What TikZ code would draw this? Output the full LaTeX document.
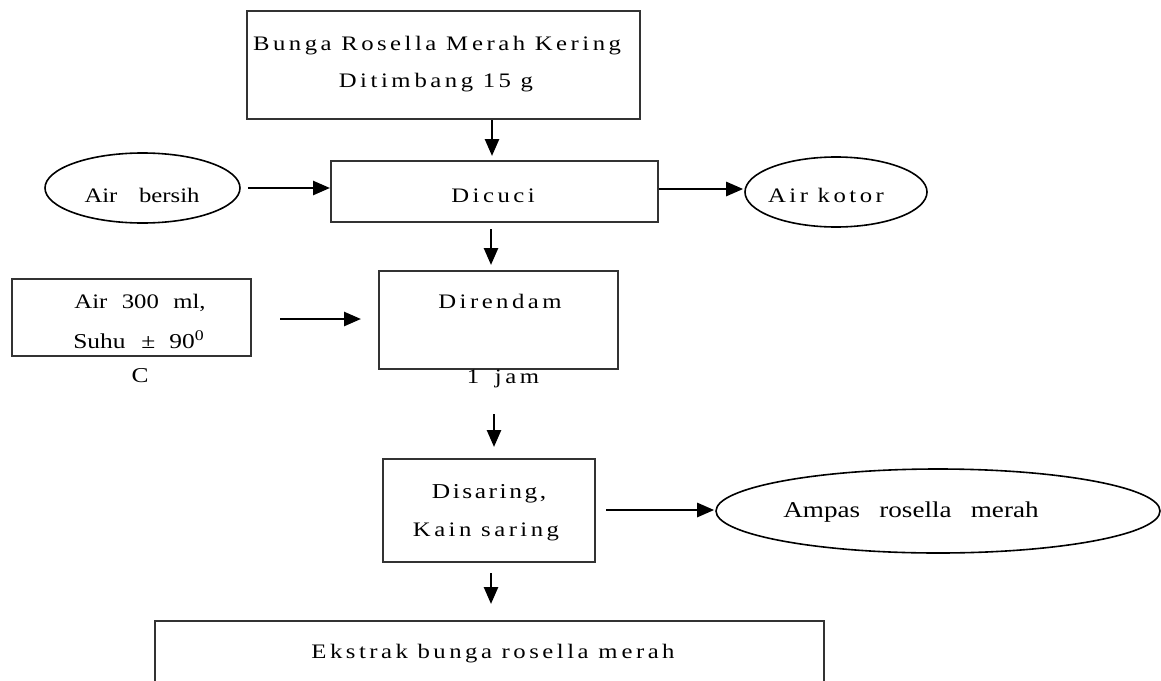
\documentclass[tikz,border=0pt]{standalone}
\usepackage{fontspec}
\setmainfont{Liberation Serif}
\newfontfamily\wfont[FakeStretch=1.2]{Liberation Serif}
\newfontfamily\lsfont[FakeStretch=1.2,LetterSpace=17]{Liberation Serif}
\newfontfamily\dsfont[FakeStretch=1.2,LetterSpace=12]{Liberation Serif}
\newcommand\wsp[2]{\fontsize{#1}{12}\wfont\spaceskip=#2\relax}
\usetikzlibrary{arrows.meta,shapes.geometric}
\begin{document}
\begin{tikzpicture}[x=0.5pt,y=-0.5pt,
  box/.style={draw=black!80,line width=1pt,rectangle,inner sep=0pt},
  oval/.style={draw,ellipse,line width=0.8pt,inner sep=0pt},
  arr/.style={line width=1.3pt,-{Triangle[length=8.5pt,width=7pt]}},
  lbl/.style={inner sep=0pt,anchor=base},
  ls/.style={font=\fontsize{10.3}{12}\lsfont}]
\useasboundingbox (0,0) rectangle (1161,680);
\clip (0,0) rectangle (1161,680);
% shapes
\node[box,minimum width=196.5pt,minimum height=54pt] (top) at (443.5,65) {};
\node[box,minimum width=163.5pt,minimum height=30.5pt] (dicuci) at (494.5,191.5) {};
\node[oval,minimum width=97.5pt,minimum height=35pt] (bersih) at (142.5,188) {};
\node[oval,minimum width=91pt,minimum height=35pt] (kotor) at (836,192) {};
\node[box,minimum width=119.5pt,minimum height=38.5pt] (air) at (131.5,317.5) {};
\node[box,minimum width=119.5pt,minimum height=49pt] (direndam) at (498.5,320) {};
\node[box,minimum width=106pt,minimum height=51.5pt] (disaring) at (489,510.5) {};
\node[oval,minimum width=222pt,minimum height=42pt] (ampas) at (938,511) {};
\node[box,minimum width=334.5pt,minimum height=59pt] (ext) at (489.5,680) {};
% labels
\node[lbl,ls] (t1) at (437,50) {Bunga Rosella M\kern2pt{}erah Kering};
\node[lbl,ls] (t2) at (436,87) {Ditim\kern2pt{}bang 15 g};
\node[lbl,ls] (t3) at (493,202) {Dicuci};
\node[lbl,font={\wsp{10.3}{1.05em}}] (t4) at (142,202) {Air bersih};
\node[lbl,ls] (t5) at (826,202) {Air kotor};
\node[lbl,font={\wsp{10.3}{0.7em}}] (t6) at (140,308) {Air 300 ml,};
\node[lbl,font={\wsp{10.6}{0.75em}}] (t7) at (139,348) {Suhu ±\kern-1pt{} 90\textsuperscript{0}};
\node[lbl,font={\wsp{10.6}{0.5em}}] (t8) at (140,382) {C};
\node[lbl,ls] (t9) at (500,308) {Direndam};
\node[lbl,ls] (t10) at (503,383) {1\kern3pt{} jam};
\node[lbl,font={\fontsize{10.6}{12}\dsfont}] (t11) at (489,498) {Disaring,};
\node[lbl,ls] (t12) at (486,536) {Kain saring};
\node[lbl,font={\wsp{11.3}{0.85em}}] (t13) at (911,517) {Ampas rosella merah};
\node[lbl,ls] (t14) at (493,658) {Ekstrak bunga rosella m\kern2pt{}erah};
% connector guides
\coordinate (xa) at (492,0);
\coordinate (xb) at (491,0);
\coordinate (xc) at (494,0);
\coordinate (ya) at (0,189);
\coordinate (yb) at (0,319);
\coordinate (yc) at (0,510);
% connectors
\draw[arr,shorten >=2pt] (top.south -| xa) -- (dicuci.north -| xa);
\draw[arr,shorten <=3.5pt] (bersih.east) -- (dicuci.west |- bersih.east);
\draw[arr,shorten >=0.5pt] (dicuci.east |- ya) -- (kotor.west |- ya);
\draw[arr,shorten <=3pt,shorten >=2.5pt] (dicuci.south -| xb) -- (direndam.north -| xb);
\draw[arr,shorten <=14pt,shorten >=8.5pt] (air.east |- yb) -- (direndam.west |- yb);
\draw[arr,shorten <=22pt,shorten >=5.5pt] (direndam.south -| xc) -- (disaring.north -| xc);
\draw[arr,shorten <=5pt,shorten >=0.5pt] (disaring.east |- yc) -- (ampas.west |- yc);
\draw[arr,shorten <=5pt,shorten >=8pt] (disaring.south -| xb) -- (ext.north -| xb);
\end{tikzpicture}
\end{document}
